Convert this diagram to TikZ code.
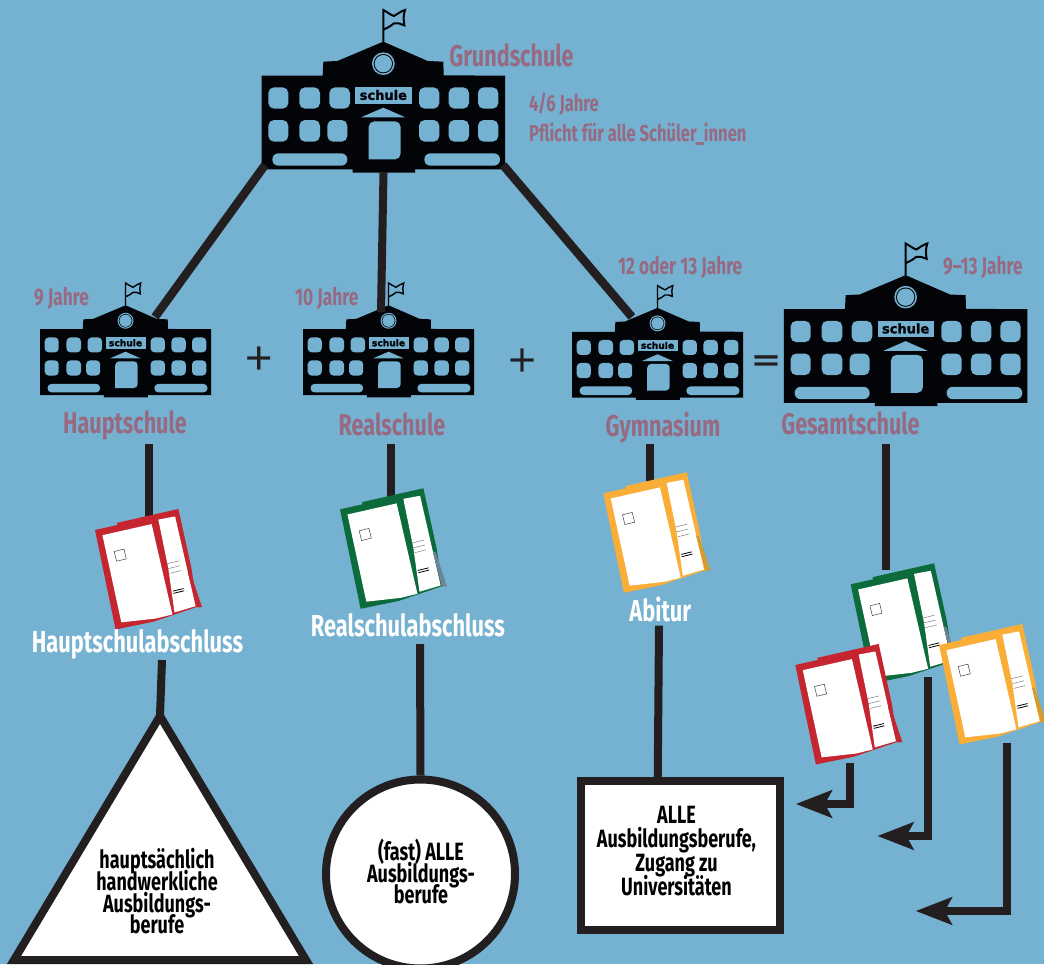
\documentclass[tikz,border=0pt]{standalone}
\usepackage{fontspec}
\usetikzlibrary{arrows.meta}
\setmainfont{Fira Sans}[FakeStretch=0.72]
\newfontfamily\signfont{DejaVu Sans}[BoldFeatures={FakeBold=1.6}]
\newfontfamily\opfont{DejaVu Sans}[FakeBold=0.6]
\definecolor{bgblue}{HTML}{75B1D0}
\definecolor{rose}{HTML}{986A82}
\definecolor{ink}{HTML}{231F20}
\definecolor{schoolblack}{HTML}{030408}
\definecolor{certred}{HTML}{C4252F}
\definecolor{certgreen}{HTML}{0B6B3A}
\definecolor{certorange}{HTML}{FAAE38}
\definecolor{taborange}{HTML}{D59B2C}
\definecolor{tabgrey}{HTML}{6F8496}
\newcommand\tightlines{\lineskiplimit=-20pt\relax}
\tikzset{
  conn/.style={draw=ink,line width=8pt},
  headconn/.style={conn,-{Stealth[length=36pt,width=27pt,inset=7pt]}},
  roselarge/.style={text=rose,font=\bfseries\fontsize{30}{30}\selectfont,inner sep=0pt,anchor=base},
  rosesmall/.style={text=rose,font=\bfseries\fontsize{24}{24}\selectfont,inner sep=0pt,anchor=base west},
  whitelabel/.style={text=white,font=\bfseries\fontsize{30.3}{30}\selectfont,inner sep=0pt,anchor=base},
  blacktext/.style={text=black,font=\bfseries\fontsize{25}{21.6}\selectfont\tightlines,inner sep=0pt,align=center},
  shapeframe/.style={draw=ink,line width=8pt,fill=white},
  opsign/.style={text=ink,inner sep=0pt,font=\opfont\fontsize{36}{36}\selectfont},
}
% #1,#2 origin, #3 scale, #4 name
\newcommand\drawschool[4]{%
  \pgfmathsetmacro\ss{#3/3}%
  \pgfmathsetmacro\rc{17*\ss}%
  \pgfmathsetmacro\lw{6*\ss}%
  \begin{scope}[shift={(#1,#2)},x=\ss pt,y={-\ss pt}]
    \draw[schoolblack,line width=\lw pt] (400,126) -- (400,30)
      .. controls (412,36) and (420,44) .. (432,48)
      .. controls (442,42) and (452,34) .. (465,30)
      .. controls (460,45) and (460,60) .. (463,76)
      .. controls (450,72) and (442,66) .. (432,70)
      .. controls (422,78) and (412,84) .. (402,88);
    \fill[schoolblack] (35,227) -- (218,227) -- (220,185) -- (262,183) -- (400,125)
      -- (533,183) -- (580,185) -- (581,226) -- (765,227) -- (765,508) -- (495,508)
      -- (495,518) -- (308,518) -- (308,508) -- (35,508) -- cycle;
    \foreach \wa/\wb in {55/115,148/210,238/300,507/568,596/657,684/745}
      \fill[bgblue,rounded corners=\rc pt] (\wa,262) rectangle (\wb,326);
    \foreach \wa/\wb in {55/115,148/210,232/292,507/568,596/657,684/745}
      \fill[bgblue,rounded corners=\rc pt] (\wa,360) rectangle (\wb,425);
    \pgfmathsetmacro\rb{18*\ss}%
    \fill[bgblue,rounded corners=\rb pt] (67,460) rectangle (292,497);
    \fill[bgblue,rounded corners=\rb pt] (523,460) rectangle (750,497);
    \fill[bgblue,rounded corners=\rc pt] (356,478) -- (356,364) -- (452,364) -- (452,478) [sharp corners] -- cycle;
    \fill[bgblue] (333,352) -- (400,323) -- (466,352) -- cycle;
    \fill[bgblue] (316,261) rectangle (486,311);
    \node[scale=#3,inner sep=0pt,text=schoolblack,font=\signfont\bfseries\fontsize{13}{13}\selectfont] (#4-sign) at (400,285) {schule};
    \fill[bgblue] (400,191) circle[radius=34];
    \fill[schoolblack] (400,191) circle[radius=29];
    \fill[bgblue] (400,191) circle[radius=26];
  \end{scope}%
}
% #1,#2 top-left corner, #3 colour, #4 tab colour
\newcommand\drawcert[4]{%
  \begin{scope}[shift={(#1,#2)},x={(0.971pt,0.239pt)},y={(0.239pt,-0.971pt)}]
    \fill[#3] (0,0) -- (23,.5) -- (23,-1.7) -- (86,-.5) -- (84.5,60) -- (81,99)
      -- (58,101) -- (35,103) -- (-3.8,101.5) -- cycle;
    \fill[white] (6,6.8) -- (56.4,7.8) -- (55,100.5) -- (38,100.5) -- (3.5,96) -- cycle;
    \fill[white] (64,5) -- (81,6) -- (79.5,98) -- (57.5,99) -- (62,55) -- cycle;
    \fill[#4] (80,63.5) -- (82.5,64) -- (85.5,100.5) -- (80.5,99.5) -- cycle;
    \draw[black!75,line width=.5pt] (13.5,25.5) -- (23.5,25.5) -- (23.5,35.5) -- (13.5,35.5) -- cycle;
    \draw[black!50,line width=.5pt] (62,50) -- (74,50) (62,55) -- (74,55) (62,60) -- (74,60);
    \draw[black,line width=.8pt] (61,78) -- (72,78) (61,80.3) -- (72,80.3);
  \end{scope}%
}
\begin{document}
\begin{tikzpicture}[x=1pt,y=-1pt]
\useasboundingbox (0,0) rectangle (1044,964);
\clip (0,0) rectangle (1044,964);
\fill[bgblue] (0,0) rectangle (1044,964);

% connector ends
\coordinate (gr-l) at (265,165);
\coordinate (gr-m) at (383.5,172);
\coordinate (gr-r) at (503,165);
\coordinate (hs-top) at (155,317);
\coordinate (rs-top) at (381,312);
\coordinate (gy-top) at (632,317);
\coordinate (hs-stem) at (149,444);
\coordinate (hs-stem-end) at (149,520);
\coordinate (rs-stem) at (390.7,444);
\coordinate (rs-stem-end) at (390.7,505);
\coordinate (gy-stem) at (650.3,444);
\coordinate (gy-stem-end) at (650.3,490);
\coordinate (ge-stem) at (885.7,444);
\coordinate (ge-stem-end) at (885.7,569.5);
\coordinate (hab-stem) at (162,660);
\coordinate (rab-stem) at (420,644);
\coordinate (ab-stem) at (659,625.7);

% schools
\drawschool{250}{0}{1}{gs}
\drawschool{31.8}{276}{.703}{hs}
\drawschool{294.8}{276}{.703}{rs}
\drawschool{563.8}{278.6}{.703}{gy}
\drawschool{772.3}{233.5}{1}{ge}

% tree connectors
\draw[conn,line width=8.5pt] (gr-l) -- (hs-top);
\draw[conn] (gr-m) -- (rs-top);
\draw[conn,line width=8.5pt] (gr-r) -- (gy-top);
\draw[conn] (hs-stem) -- (hs-stem-end);
\draw[conn] (rs-stem) -- (rs-stem-end);
\draw[conn] (gy-stem) -- (gy-stem-end);
\draw[conn] (ge-stem) -- (ge-stem-end);

% certificates
\drawcert{95}{530}{certred}{certred}
\drawcert{340}{509.3}{certgreen}{tabgrey}
\drawcert{603.3}{493.3}{certorange}{taborange}
\drawcert{850.7}{584.3}{certgreen}{tabgrey}
\drawcert{795.3}{665}{certred}{certred}
\drawcert{939}{645}{certorange}{taborange}

% labels
\node[roselarge] (l-gs) at (511.5,66.7) {Grundschule};
\node[rosesmall,font=\bfseries\fontsize{23}{23}\selectfont] (l-gs1) at (529,111.7) {4/6 Jahre};
\node[rosesmall,font=\bfseries\fontsize{23}{23}\selectfont] (l-gs2) at (529,141) {Pflicht für alle Schüler\_innen};
\node[roselarge] (l-hs) at (125,433.3) {Hauptschule};
\node[roselarge] (l-rs) at (392,435) {Realschule};
\node[roselarge] (l-gy) at (663,436.7) {Gymnasium};
\node[roselarge] (l-ge) at (850.5,434.3) {Gesamtschule};
\node[rosesmall] (l-9) at (34,305.7) {9 Jahre};
\node[rosesmall] (l-10) at (295,305.7) {10 Jahre};
\node[rosesmall] (l-12) at (618,274.3) {12 oder 13 Jahre};
\node[rosesmall] (l-913) at (943,274.3) {9–13 Jahre};
\node[whitelabel] (l-hab) at (137.5,652.3) {Hauptschulabschluss};
\node[whitelabel] (l-rab) at (408,636) {Realschulabschluss};
\node[whitelabel] (l-ab) at (660.3,621.7) {Abitur};

% operators
\node[opsign] (plus1) at (258.7,358) {+};
\node[opsign] (plus2) at (522,360) {+};
\node[opsign] (equals) at (766,363.5) {=};

% outcome shapes
\coordinate (tri-apex) at (160,716);
\draw[shapeframe,miter limit=10] (tri-apex) -- (306,960) -- (14,960) -- cycle;
\node[blacktext] (tri-text) at (157,891.3) {hauptsächlich\\handwerkliche\\Ausbildungs-\\berufe};
\node[shapeframe,circle,minimum size=189pt,inner sep=0pt] (circ) at (420.5,874) {};
\node[blacktext] (circ-text) at (421,871.8) {(fast) ALLE\\Ausbildungs-\\berufe};
\node[shapeframe,rectangle,minimum width=199pt,minimum height=148.4pt,inner sep=0pt] (box) at (680.8,855.5) {};
\node[blacktext,font=\bfseries\fontsize{25}{24}\selectfont\tightlines] (box-text) at (676.5,851) {ALLE\\Ausbildungsberufe,\\Zugang zu\\Universitäten};

\coordinate (box-in) at (657.7,781);
\draw[conn] (hab-stem) -- (tri-apex);
\draw[conn] (rab-stem) -- (circ.north);
\draw[conn] (ab-stem) -- (box-in);

% arrows from certificates
\coordinate (ar1-s) at (850,762.7);
\coordinate (ar1-c) at (850,804);
\coordinate (ar1-e) at (795.7,804);
\coordinate (ar2-s) at (928,676.7);
\coordinate (ar2-c) at (928,836);
\coordinate (ar2-e) at (877.3,836);
\coordinate (ar3-s) at (1007,743);
\coordinate (ar3-c) at (1007,911);
\coordinate (ar3-e) at (915.7,911);
\draw[headconn] (ar1-s) -- (ar1-c) -- (ar1-e);
\draw[headconn] (ar2-s) -- (ar2-c) -- (ar2-e);
\draw[headconn] (ar3-s) -- (ar3-c) -- (ar3-e);
\end{tikzpicture}
\end{document}
